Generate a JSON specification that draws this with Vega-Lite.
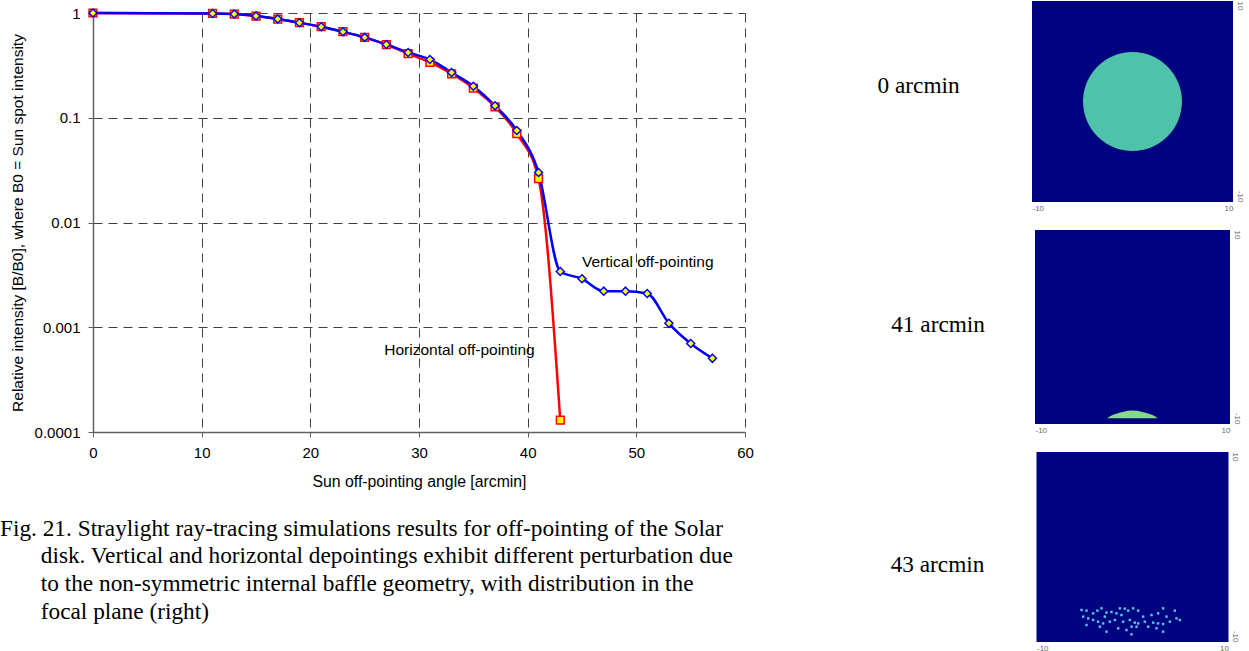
{
  "$schema": "https://vega.github.io/schema/vega-lite/v6.json",
  "padding": 0,
  "background": "white",
  "spacing": 123,
  "bounds": "full",
  "align": "none",
  "config": {
    "font": "Liberation Sans",
    "view": {"stroke": null},
    "axis": {"labelColor": "#000", "titleColor": "#000", "labelFont": "Liberation Sans", "titleFont": "Liberation Sans"}
  },
  "datasets": {
    "curves": [
      {"series": "Horizontal", "angle": 0, "intensity": 1},
      {"series": "Horizontal", "angle": 11, "intensity": 0.99},
      {"series": "Horizontal", "angle": 13, "intensity": 0.978},
      {"series": "Horizontal", "angle": 15, "intensity": 0.936},
      {"series": "Horizontal", "angle": 17, "intensity": 0.876},
      {"series": "Horizontal", "angle": 19, "intensity": 0.808},
      {"series": "Horizontal", "angle": 21, "intensity": 0.74},
      {"series": "Horizontal", "angle": 23, "intensity": 0.663},
      {"series": "Horizontal", "angle": 25, "intensity": 0.585},
      {"series": "Horizontal", "angle": 27, "intensity": 0.5},
      {"series": "Horizontal", "angle": 29, "intensity": 0.41},
      {"series": "Horizontal", "angle": 31, "intensity": 0.337},
      {"series": "Horizontal", "angle": 33, "intensity": 0.263},
      {"series": "Horizontal", "angle": 35, "intensity": 0.192},
      {"series": "Horizontal", "angle": 37, "intensity": 0.127},
      {"series": "Horizontal", "angle": 39, "intensity": 0.0706},
      {"series": "Horizontal", "angle": 41, "intensity": 0.0262},
      {"series": "Horizontal", "angle": 43, "intensity": 0.00013},
      {"series": "Vertical", "angle": 0, "intensity": 1},
      {"series": "Vertical", "angle": 11, "intensity": 0.99},
      {"series": "Vertical", "angle": 13, "intensity": 0.978},
      {"series": "Vertical", "angle": 15, "intensity": 0.936},
      {"series": "Vertical", "angle": 17, "intensity": 0.876},
      {"series": "Vertical", "angle": 19, "intensity": 0.808},
      {"series": "Vertical", "angle": 21, "intensity": 0.74},
      {"series": "Vertical", "angle": 23, "intensity": 0.663},
      {"series": "Vertical", "angle": 25, "intensity": 0.585},
      {"series": "Vertical", "angle": 27, "intensity": 0.5},
      {"series": "Vertical", "angle": 29, "intensity": 0.42},
      {"series": "Vertical", "angle": 31, "intensity": 0.36},
      {"series": "Vertical", "angle": 33, "intensity": 0.27},
      {"series": "Vertical", "angle": 35, "intensity": 0.2},
      {"series": "Vertical", "angle": 37, "intensity": 0.13},
      {"series": "Vertical", "angle": 39, "intensity": 0.0755},
      {"series": "Vertical", "angle": 41, "intensity": 0.03},
      {"series": "Vertical", "angle": 43, "intensity": 0.00341},
      {"series": "Vertical", "angle": 45, "intensity": 0.0029},
      {"series": "Vertical", "angle": 47, "intensity": 0.00221},
      {"series": "Vertical", "angle": 49, "intensity": 0.00221},
      {"series": "Vertical", "angle": 51, "intensity": 0.0021},
      {"series": "Vertical", "angle": 53, "intensity": 0.00109},
      {"series": "Vertical", "angle": 55, "intensity": 0.0007},
      {"series": "Vertical", "angle": 57, "intensity": 0.000505}
    ],
    "notes": [
      {"label": "Vertical off-pointing", "angle": 45.0, "intensity": 0.0042},
      {"label": "Horizontal off-pointing", "angle": 26.8, "intensity": 0.000604}
    ],
    "disk": [{"px": 0, "py": 0}],
    "label0": [{"label": "0 arcmin", "px": -17.2, "py": 1.54}],
    "label41": [{"label": "41 arcmin", "px": -15.13, "py": 0.21}],
    "label43": [{"label": "43 arcmin", "px": -15.42, "py": -1.89}],
    "blob": [
      {"px": -2.6, "py": -9.4},
      {"px": -2.0, "py": -9.05},
      {"px": -1.0, "py": -8.75},
      {"px": 0.0, "py": -8.62},
      {"px": 1.0, "py": -8.75},
      {"px": 2.0, "py": -9.05},
      {"px": 2.6, "py": -9.4}
    ],
    "spots": [
      {"px": -5.31, "py": -6.63}, {"px": -4.79, "py": -6.70}, {"px": -3.65, "py": -6.70}, {"px": -3.23, "py": -6.46},
      {"px": -2.71, "py": -6.91}, {"px": -2.19, "py": -6.84}, {"px": -1.32, "py": -6.46}, {"px": -0.80, "py": -6.49},
      {"px": -0.45, "py": -6.70}, {"px": 0.07, "py": -6.46}, {"px": 0.59, "py": -6.70}, {"px": 1.11, "py": -7.33},
      {"px": 1.98, "py": -7.16}, {"px": 2.67, "py": -6.98}, {"px": 3.19, "py": -6.46}, {"px": 4.41, "py": -6.70},
      {"px": 4.93, "py": -7.68}, {"px": -5.14, "py": -7.33}, {"px": -4.62, "py": -7.51}, {"px": -4.10, "py": -7.68},
      {"px": -3.58, "py": -7.86}, {"px": -3.06, "py": -8.04}, {"px": -2.36, "py": -7.86}, {"px": -1.84, "py": -7.68},
      {"px": -1.15, "py": -7.16}, {"px": -0.97, "py": -7.86}, {"px": -0.28, "py": -7.68}, {"px": 0.24, "py": -7.96},
      {"px": 0.59, "py": -8.04}, {"px": 1.28, "py": -7.86}, {"px": 2.15, "py": -7.96}, {"px": 2.67, "py": -8.04},
      {"px": 3.19, "py": -8.11}, {"px": 3.89, "py": -7.86}, {"px": -4.79, "py": -8.21}, {"px": -3.40, "py": -8.39},
      {"px": -2.71, "py": -8.91}, {"px": -1.49, "py": -8.56}, {"px": -0.63, "py": -8.74}, {"px": -0.10, "py": -9.19},
      {"px": 0.42, "py": -8.39}, {"px": 1.63, "py": -8.39}, {"px": 2.50, "py": -8.56}, {"px": 3.19, "py": -8.91},
      {"px": -4.10, "py": -6.98}, {"px": -1.67, "py": -6.98}, {"px": 3.54, "py": -7.33}, {"px": 4.58, "py": -7.51},
      {"px": -0.10, "py": -8.39}, {"px": -2.88, "py": -7.33}
    ]
  },
  "hconcat": [
    {
      "bounds": "full",
      "spacing": 0,
      "vconcat": [
        {
          "width": 652,
          "height": 1,
          "data": {"values": []},
          "mark": {"type": "point"},
          "encoding": {}
        },
        {
          "width": 652,
          "height": 419,
          "title": {
            "text": [
              "Fig. 21. Straylight ray-tracing simulations results for off-pointing of the Solar",
              "\u200b\u00a0\u00a0\u00a0\u00a0\u00a0\u00a0\u00a0disk. Vertical and horizontal depointings exhibit different perturbation due",
              "\u200b\u00a0\u00a0\u00a0\u00a0\u00a0\u00a0\u00a0to the non-symmetric internal baffle geometry, with distribution in the",
              "\u200b\u00a0\u00a0\u00a0\u00a0\u00a0\u00a0\u00a0focal plane (right)"
            ],
            "orient": "bottom",
            "anchor": "start",
            "frame": "group",
            "dx": -93,
            "offset": 29,
            "font": "Liberation Serif",
            "fontSize": 23.3,
            "fontWeight": "normal",
            "color": "#000",
            "lineHeight": 27.7
          },
          "data": {"name": "curves"},
          "resolve": {"axis": {"x": "independent"}},
          "encoding": {
            "x": {"field": "angle", "type": "quantitative", "scale": {"domain": [0, 60], "nice": false, "zero": false}, "axis": null},
            "y": {
              "field": "intensity", "type": "quantitative",
              "scale": {"type": "log", "domain": [0.0001, 1], "nice": false},
              "axis": {
                "values": [0.0001, 0.001, 0.01, 0.1, 1], "format": "~g", "labelFlush": false,
                "grid": true, "gridDash": [9, 6], "gridColor": "#404040", "gridWidth": 1,
                "domainColor": "#606060", "domainWidth": 1.5, "tickColor": "#606060", "tickSize": 5,
                "labelFontSize": 15, "labelPadding": 8,
                "title": "Relative intensity [B/B0], where B0 = Sun spot intensity",
                "titleFontSize": 15.5, "titleFontWeight": "normal", "titlePadding": 9
              }
            }
          },
          "layer": [
            {
              "transform": [{"filter": "datum.series === 'Horizontal'"}],
              "mark": {"type": "line", "color": "#ff0000", "strokeWidth": 2.5, "interpolate": "monotone"},
              "encoding": {
                "x": {
                  "field": "angle", "type": "quantitative", "scale": {"domain": [0, 60], "nice": false, "zero": false},
                  "axis": {
                    "values": [0, 10, 20, 30, 40, 50, 60], "labelFlush": false,
                    "grid": true, "gridDash": [9, 6], "gridColor": "#404040", "gridWidth": 1,
                    "domainColor": "#606060", "domainWidth": 1.5, "tickColor": "#606060", "tickSize": 5,
                    "labelFontSize": 15, "labelPadding": 8,
                    "title": "Sun off-pointing angle [arcmin]",
                    "titleFontSize": 15.8, "titleFontWeight": "normal", "titlePadding": 14
                  }
                }
              }
            },
            {
              "transform": [{"filter": "datum.series === 'Vertical'"}],
              "mark": {"type": "line", "color": "#0000ff", "strokeWidth": 2.5, "interpolate": "monotone"},
              "encoding": {
                "x": {
                  "field": "angle", "type": "quantitative", "scale": {"domain": [0, 60], "nice": false, "zero": false},
                  "axis": {"orient": "top", "labels": false, "ticks": false, "domain": false, "grid": false, "title": " ", "titleFontSize": 11, "titlePadding": 0}
                }
              }
            },
            {
              "transform": [{"filter": "datum.series === 'Horizontal'"}],
              "mark": {"type": "point", "shape": "square", "filled": true, "fill": "#ffff00", "stroke": "#ff0000", "strokeWidth": 1.5, "size": 60, "opacity": 1}
            },
            {
              "transform": [{"filter": "datum.series === 'Vertical'"}],
              "mark": {"type": "point", "shape": "diamond", "filled": true, "fill": "#ffff00", "stroke": "#0000ff", "strokeWidth": 1.5, "size": 64, "opacity": 1}
            },
            {
              "data": {"name": "notes"},
              "mark": {"type": "text", "align": "left", "baseline": "middle", "font": "Liberation Sans", "fontSize": 15.5, "color": "#000"},
              "encoding": {"text": {"field": "label", "type": "nominal"}}
            }
          ]
        }
      ]
    },
    {
      "vconcat": [
        {
          "width": 201,
          "height": 201,
          "view": {"fill": "#00037f", "stroke": null},
          "encoding": {
            "x": {"field": "px", "type": "quantitative", "scale": {"domain": [-10, 10], "nice": false, "zero": false},
              "axis": {"values": [-10, 10], "labelExpr": "toString(datum.value)", "labelFontSize": 8, "labelColor": "#666", "ticks": false, "domain": false, "grid": false, "title": null, "labelPadding": 2, "labelFlush": true}},
            "y": {"field": "py", "type": "quantitative", "scale": {"domain": [-10, 10], "nice": false, "zero": false},
              "axis": {"orient": "right", "values": [-10, 10], "labelExpr": "toString(datum.value)", "labelFontSize": 8, "labelColor": "#666", "ticks": false, "domain": false, "grid": false, "title": null, "labelPadding": 2, "labelAngle": 90, "labelFlush": false,
                "labelAlign": {"condition": {"test": "datum.value > 0", "value": "left"}, "value": "right"}, "labelBaseline": "bottom"}}
          },
          "layer": [
            {"data": {"name": "disk"}, "mark": {"type": "point", "shape": "circle", "filled": true, "color": "#4fc3a9", "opacity": 1, "size": 9780}},
            {"data": {"values": [{}]}, "mark": {"type": "rule", "color": "#9a9ac0", "strokeWidth": 1}, "encoding": {"x": {"datum": 0, "type": "quantitative"}, "y": null}},
            {"data": {"values": [{}]}, "mark": {"type": "rule", "color": "#9a9ac0", "strokeWidth": 1}, "encoding": {"y": {"datum": 0, "type": "quantitative"}, "x": null}},
            {"data": {"name": "label0"}, "mark": {"type": "text", "align": "right", "baseline": "middle", "font": "Liberation Serif", "fontSize": 23.3, "color": "#000"}, "encoding": {"text": {"field": "label", "type": "nominal"}}}
          ]
        },
        {
          "width": 195,
          "height": 194,
          "view": {"fill": "#00037f", "stroke": null},
          "encoding": {
            "x": {"field": "px", "type": "quantitative", "scale": {"domain": [-10, 10], "nice": false, "zero": false},
              "axis": {"values": [-10, 10], "labelExpr": "toString(datum.value)", "labelFontSize": 8, "labelColor": "#666", "ticks": false, "domain": false, "grid": false, "title": null, "labelPadding": 2, "labelFlush": true}},
            "y": {"field": "py", "type": "quantitative", "scale": {"domain": [-10, 10], "nice": false, "zero": false},
              "axis": {"orient": "right", "values": [-10, 10], "labelExpr": "toString(datum.value)", "labelFontSize": 8, "labelColor": "#666", "ticks": false, "domain": false, "grid": false, "title": null, "labelPadding": 2, "labelAngle": 90, "labelFlush": false,
                "labelAlign": {"condition": {"test": "datum.value > 0", "value": "left"}, "value": "right"}, "labelBaseline": "bottom"}}
          },
          "layer": [
            {"data": {"values": [{}]}, "mark": {"type": "rule", "color": "#9a9ac0", "strokeWidth": 1}, "encoding": {"x": {"datum": 0, "type": "quantitative"}, "y": null}},
            {"data": {"values": [{}]}, "mark": {"type": "rule", "color": "#9a9ac0", "strokeWidth": 1}, "encoding": {"y": {"datum": 0, "type": "quantitative"}, "x": null}},
            {"data": {"name": "blob"}, "mark": {"type": "area", "color": "#86d98a", "opacity": 1, "interpolate": "monotone"}, "encoding": {"y2": {"datum": -9.4}}},
            {"data": {"name": "label41"}, "mark": {"type": "text", "align": "right", "baseline": "middle", "font": "Liberation Serif", "fontSize": 23.3, "color": "#000"}, "encoding": {"text": {"field": "label", "type": "nominal"}}}
          ]
        },
        {
          "width": 192,
          "height": 190,
          "view": {"fill": "#00037f", "stroke": null},
          "encoding": {
            "x": {"field": "px", "type": "quantitative", "scale": {"domain": [-10, 10], "nice": false, "zero": false},
              "axis": {"values": [-10, 10], "labelExpr": "toString(datum.value)", "labelFontSize": 8, "labelColor": "#666", "ticks": false, "domain": false, "grid": false, "title": null, "labelPadding": 2, "labelFlush": true}},
            "y": {"field": "py", "type": "quantitative", "scale": {"domain": [-10, 10], "nice": false, "zero": false},
              "axis": {"orient": "right", "values": [-10, 10], "labelExpr": "toString(datum.value)", "labelFontSize": 8, "labelColor": "#666", "ticks": false, "domain": false, "grid": false, "title": null, "labelPadding": 2, "labelAngle": 90, "labelFlush": false,
                "labelAlign": {"condition": {"test": "datum.value > 0", "value": "left"}, "value": "right"}, "labelBaseline": "bottom"}}
          },
          "layer": [
            {"data": {"values": [{}]}, "mark": {"type": "rule", "color": "#9a9ac0", "strokeWidth": 1}, "encoding": {"x": {"datum": 0, "type": "quantitative"}, "y": null}},
            {"data": {"values": [{}]}, "mark": {"type": "rule", "color": "#9a9ac0", "strokeWidth": 1}, "encoding": {"y": {"datum": 0, "type": "quantitative"}, "x": null}},
            {"data": {"name": "spots"}, "mark": {"type": "square", "color": "#5cc0e8", "opacity": 1, "size": 6}},
            {"data": {"name": "label43"}, "mark": {"type": "text", "align": "right", "baseline": "middle", "font": "Liberation Serif", "fontSize": 23.3, "color": "#000"}, "encoding": {"text": {"field": "label", "type": "nominal"}}}
          ]
        }
      ],
      "spacing": 28,
      "bounds": "flush",
      "center": true
    }
  ]
}
